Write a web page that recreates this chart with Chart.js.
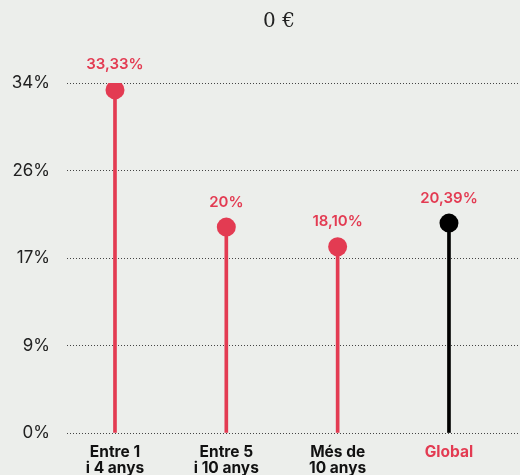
<!DOCTYPE html>
<html>
<head>
<meta charset="utf-8">
<script src="https://cdn.jsdelivr.net/npm/chart.js@4/dist/chart.umd.min.js"></script>
<style>
  html, body { margin: 0; padding: 0; background: #ECEEEB; }
  canvas { display: block; }
</style>
</head>
<body>
<canvas id="c" width="520" height="475"></canvas>
<script>
// ---- data ----
const titleText = '0 €';
const categories = [['Entre 1', 'i 4 anys'], ['Entre 5', 'i 10 anys'], ['Més de', '10 anys'], ['Global']];
const values = [33.33, 20, 18.10, 20.39];
const yTickValues = [0, 8.5, 17, 25.5, 34];
const yTickLabels = ['0%', '9%', '17%', '26%', '34%'];

// ---- style ----
const RED = '#E33B52';
const BLACK = '#000000';
const colors = values.map((v, i) => i === values.length - 1 ? BLACK : RED);
const xTickColors = categories.map((c, i) => i === categories.length - 1 ? RED : '#111111');

const fmt = v => (v % 1 === 0 ? String(v) : v.toFixed(2).replace('.', ',')) + '%';
const points = values.map((v, i) => ({ x: i, y: v }));

const labelPlugin = {
  id: 'lollipopLabels',
  afterDatasetsDraw(chart) {
    const meta = chart.getDatasetMeta(1);
    const ctx = chart.ctx;
    ctx.save();
    ctx.font = '600 15px Inter, "Noto Sans", sans-serif';
    ctx.fillStyle = RED;
    ctx.textAlign = 'center';
    ctx.textBaseline = 'middle';
    meta.data.forEach((el, i) => {
      ctx.fillText(fmt(values[i]), el.x, el.y - 25);
    });
    ctx.restore();
  },
  afterDraw(chart) {
    const ctx = chart.ctx;
    ctx.save();
    ctx.font = '20px "DejaVu Serif", "Liberation Serif", serif';
    ctx.fillStyle = '#222222';
    ctx.textAlign = 'center';
    ctx.textBaseline = 'middle';
    ctx.fillText(titleText, 279, 22);
    ctx.restore();
  }
};

new Chart(document.getElementById('c'), {
  type: 'bar',
  data: {
    datasets: [
      {
        type: 'bar',
        data: points,
        backgroundColor: colors,
        barThickness: 3,
        order: 1
      },
      {
        type: 'scatter',
        data: points,
        pointRadius: 9.5,
        pointHoverRadius: 9.5,
        pointBackgroundColor: colors,
        pointBorderWidth: 0,
        borderWidth: 0,
        showLine: false,
        order: 0
      }
    ]
  },
  options: {
    responsive: false,
    animation: false,
    layout: { autoPadding: false, padding: { top: 83, left: 0, right: 0, bottom: 0 } },
    plugins: {
      legend: { display: false },
      tooltip: { enabled: false },
      title: { display: false }
    },
    scales: {
      x: {
        type: 'linear',
        offset: false,
        min: -0.431,
        max: 3.638,
        afterBuildTicks: s => { s.ticks = categories.map((c, i) => ({ value: i })); },
        afterFit: s => { s.height = 42; s.paddingLeft = 0; s.paddingRight = 0; },
        grid: { display: false, drawTicks: false, offset: false },
        border: { display: false },
        ticks: {
          autoSkip: false,
          maxRotation: 0,
          padding: 11,
          callback: (v) => categories[v],
          color: ctx => xTickColors[ctx.index],
          font: { family: 'Inter, "Noto Sans", sans-serif', size: 15.5, weight: '700', lineHeight: 1.05 }
        }
      },
      y: {
        type: 'linear',
        min: 0,
        max: 34,
        afterBuildTicks: s => { s.ticks = yTickValues.map(v => ({ value: v })); },
        afterFit: s => { s.width = 67; },
        grid: { color: '#444444', lineWidth: 1, drawTicks: false },
        border: { display: false, dash: [1, 2] },
        ticks: {
          padding: 17,
          callback: (v, i) => yTickLabels[yTickValues.indexOf(v)],
          color: '#222222',
          font: { family: 'Inter, "Noto Sans", sans-serif', size: 17, weight: '400' }
        }
      }
    }
  },
  plugins: [labelPlugin]
});
</script>
</body>
</html>
